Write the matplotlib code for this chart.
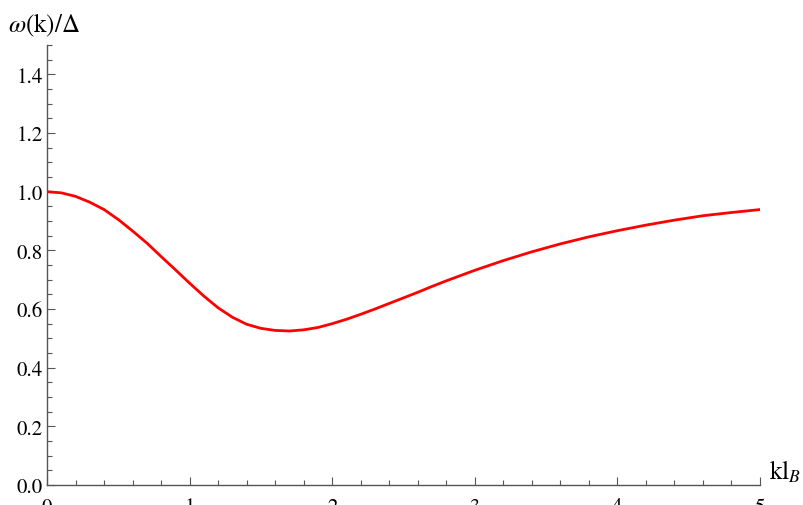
import matplotlib
matplotlib.use("Agg")
import matplotlib.pyplot as plt
from matplotlib.ticker import MultipleLocator

k_values = [0.0, 0.1, 0.2, 0.3, 0.4, 0.5, 0.6, 0.7, 0.8, 0.9,
            1.0, 1.1, 1.2, 1.3, 1.4, 1.5, 1.6, 1.7, 1.8, 1.9,
            2.0, 2.1, 2.2, 2.3, 2.4, 2.5, 2.6, 2.7, 2.8, 2.9,
            3.0, 3.2, 3.4, 3.6, 3.8, 4.0, 4.2, 4.4, 4.6, 4.8, 5.0]
omega_values = [1.000, 0.996, 0.984, 0.964, 0.939, 0.905, 0.866, 0.825, 0.779, 0.734,
                0.688, 0.644, 0.604, 0.572, 0.548, 0.534, 0.527, 0.525, 0.529, 0.537,
                0.550, 0.565, 0.582, 0.600, 0.619, 0.638, 0.657, 0.677, 0.696, 0.714,
                0.732, 0.765, 0.795, 0.822, 0.846, 0.867, 0.886, 0.903, 0.918, 0.929, 0.939]
x_ticks = [0, 1, 2, 3, 4, 5]
y_ticks = [0.0, 0.2, 0.4, 0.6, 0.8, 1.0, 1.2, 1.4]

plt.rcParams['mathtext.fontset'] = 'stix'
plt.rcParams['font.family'] = ['STIXGeneral', 'DejaVu Serif']

fig = plt.figure(figsize=(8.04, 5.06), dpi=100)
ax = fig.add_axes([47/804, 20/506, 713/804, 440/506])
ax.plot(k_values, omega_values, color='#ff0000', lw=2.0, solid_joinstyle='round')
ax.set_xlim(0, 5)
ax.set_ylim(0, 1.5)
ax.set_xticks(x_ticks)
ax.set_yticks(y_ticks)
ax.set_xticklabels([str(t) for t in x_ticks])
ax.set_yticklabels([f"{t:.1f}" for t in y_ticks])
ax.xaxis.set_minor_locator(MultipleLocator(0.2))
ax.yaxis.set_minor_locator(MultipleLocator(0.05))
for s in ['top', 'right']:
    ax.spines[s].set_visible(False)
for s in ['left', 'bottom']:
    ax.spines[s].set_color('#555555')
    ax.spines[s].set_linewidth(1.0)
ax.tick_params(which='major', direction='in', length=6, width=0.8, color='#555555',
               labelsize=15, labelcolor='black')
ax.tick_params(which='minor', direction='in', length=3.5, width=0.8, color='#555555')
ax.tick_params(axis='y', which='major', pad=3)
ax.tick_params(axis='x', which='major', pad=9)

fig.text(8/804, 1 - 25/506, r'$\omega$(k)/Δ', fontsize=18, va='center', ha='left')
fig.text(769/804, 1 - 480/506, r'kl$_B$', fontsize=18, va='baseline', ha='left')

fig.savefig('out.png', dpi=100)
